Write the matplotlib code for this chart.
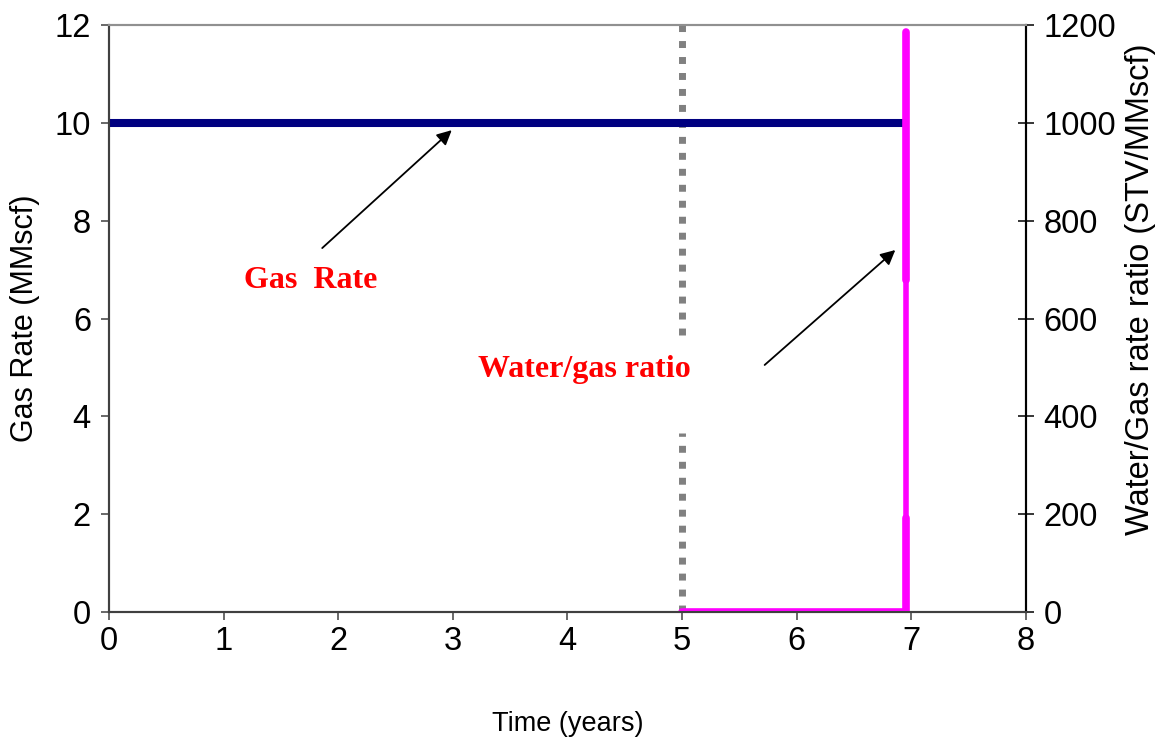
#!/usr/bin/env python3

import matplotlib
matplotlib.use('Agg')
import matplotlib.pyplot as plt

# -----------------------------
# Data
# -----------------------------
gas_years = [0, 6.95]
gas_rate = [10, 10]            # MMscf

wgr_years = [5, 6.95, 6.95]
wgr_low = [0, 0, 192]          # STV/MMscf, thick part at the bottom
wgr_mid_years = [6.95, 6.95]
wgr_mid = [192, 679]           # thinner middle piece
wgr_top_years = [6.95, 6.95]
wgr_top = [679, 1185]

breakthrough_year = 5
dotted_low = [0, 3.66]         # gap in the dotted line around the label
dotted_high = [5.66, 12]

x_ticks = list(range(0, 9))
left_ticks = [0, 2, 4, 6, 8, 10, 12]
right_ticks = [0, 200, 400, 600, 800, 1000, 1200]

plt.rcParams['font.family'] = ['Liberation Sans', 'DejaVu Sans']

# -----------------------------
# Figure
# -----------------------------
fig = plt.figure(figsize=(11.61, 7.46), dpi=100)
ax = fig.add_axes([0.0939, 0.1796, 0.7898, 0.7869])
ax2 = ax.twinx()

ax.plot(gas_years, gas_rate, color='#000080', lw=5.8, solid_capstyle='butt', zorder=3)

for seg in (dotted_low, dotted_high):
    ax.plot([breakthrough_year] * 2, seg, color='#808080', lw=5, dashes=(1, 1.3),
            dash_capstyle='butt', zorder=2)

ax2.plot(wgr_years, wgr_low, color='#ff00ff', lw=5.5, solid_capstyle='round',
         solid_joinstyle='round')
ax2.plot(wgr_mid_years, wgr_mid, color='#ff00ff', lw=4.0, solid_capstyle='butt')
ax2.plot(wgr_top_years, wgr_top, color='#ff00ff', lw=5.5, solid_capstyle='round')

ax.set_xlim(0, 8)
ax.set_ylim(0, 12)
ax2.set_ylim(0, 1200)
ax.set_xticks(x_ticks)
ax.set_yticks(left_ticks)
ax2.set_yticks(right_ticks)

ax.tick_params(axis='both', direction='out', length=6, width=1.1, labelsize=23.5,
               colors='#404040', labelcolor='black', pad=7)
ax.tick_params(axis='x', pad=4)
ax2.tick_params(axis='y', direction='inout', length=11, width=1.1, labelsize=23.5,
                colors='black', labelcolor='black', pad=7)

ax.set_xlabel('Time (years)', fontsize=19.5)
ax.set_ylabel('Gas Rate (MMscf)', fontsize=22)
ax2.set_ylabel('Water/Gas rate ratio (STV/MMscf)', fontsize=23.5)
ax.xaxis.set_label_coords(0.5, -0.168)
ax.yaxis.set_label_coords(-0.075, 0.5)
ax2.yaxis.set_label_coords(1.108, 0.55)

for a in (ax, ax2):
    a.spines['left'].set_color('#404040')
    a.spines['bottom'].set_color('#404040')
    a.spines['top'].set_color('#909090')
    a.spines['right'].set_color('black')
    for s in a.spines.values():
        s.set_linewidth(1.5)

# -----------------------------
# Annotations
# -----------------------------
arrow = dict(arrowstyle='-|>', mutation_scale=22, lw=1.3, color='black',
             shrinkA=0, shrinkB=0)
ax.annotate('', xy=(2.99, 9.85), xytext=(1.86, 7.44), arrowprops=arrow, zorder=5)
ax.annotate('', xy=(6.86, 7.40), xytext=(5.72, 5.05), arrowprops=arrow, zorder=5)

ax2.text(1.76, 677, 'Gas  Rate', color='red', fontsize=23, fontweight='bold',
         family='Liberation Serif', ha='center', va='center')
ax2.text(4.15, 495, 'Water/gas ratio', color='red', fontsize=23, fontweight='bold',
         family='Liberation Serif', ha='center', va='center')

plt.savefig('out.png', dpi=100)
plt.close()
